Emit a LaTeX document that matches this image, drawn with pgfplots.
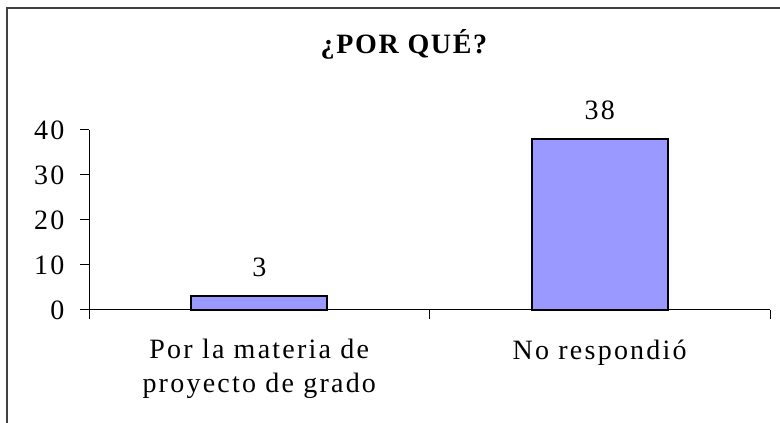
\documentclass[border=0pt]{standalone}
\usepackage{fontspec}
\setmainfont{Liberation Serif}
\newfontfamily\spaced[LetterSpace=8]{Liberation Serif}
\newfontfamily\titlefont[LetterSpace=6]{Liberation Serif}
\usepackage{pgfplots}
\pgfplotsset{compat=1.18}
\definecolor{barfill}{HTML}{9999FF}
\definecolor{framegray}{HTML}{404040}

\begin{document}
\begin{tikzpicture}[x=1pt,y=1pt]
\useasboundingbox (0,0) rectangle (780,423);
% chart frame (only top and left visible)
\draw[framegray, line width=2pt] (7,-5) -- (7,415) -- (790,415);
\node[font=\titlefont\bfseries\fontsize{28}{32}\selectfont, anchor=base] at (404,369) {¿POR QUÉ?};
\begin{axis}[
    at={(89pt,113pt)}, anchor=south west,
    scale only axis, width=681pt, height=180pt,
    xmin=-0.5, xmax=1.5, ymin=0, ymax=40,
    axis lines*=left,
    axis line style={black, line width=1pt},
    ytick={0,10,20,30,40},
    xtick={-0.5,0.5,1.5}, xticklabels={},
    extra x ticks={0,1},
    extra x tick labels={Por la materia de\\proyecto de grado, No respondió},
    extra x tick style={major tick length=0pt,
        xticklabel style={align=center, yshift=-26pt,
            font=\spaced\fontsize{28}{34}\selectfont}},
    tick align=outside, major tick length=9pt,
    tick style={black, line width=1pt},
    /pgf/number format/assume math mode=true,
    yticklabel style={font=\spaced\fontsize{28}{30}\selectfont, xshift=-12pt},
    ybar, bar width=0.4,
    nodes near coords,
    nodes near coords style={font=\spaced\fontsize{28}{30}\selectfont, anchor=south, yshift=15pt},
    clip=false,
]
\addplot[fill=barfill, draw=black, line width=2pt] coordinates {(0,3) (1,38)};
\end{axis}
\end{tikzpicture}
\end{document}
